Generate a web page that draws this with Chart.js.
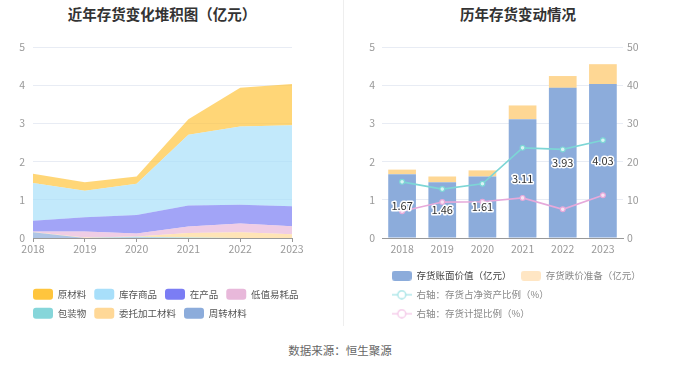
<!DOCTYPE html>
<html><head><meta charset="utf-8">
<script src="https://cdn.jsdelivr.net/npm/chart.js@4"></script>
<style>
html,body{margin:0;padding:0;background:#fff;}
body{width:680px;height:367px;position:relative;overflow:hidden;font-family:"Noto Sans CJK SC",sans-serif;}
.title{position:absolute;top:14px;font-size:14.5px;font-weight:bold;color:#333;white-space:nowrap;transform:translate(-50%,-50%);line-height:1;}
#divider{position:absolute;left:343px;top:0;width:1px;height:326px;background:#eeeeee;}
#src{position:absolute;left:340px;top:351px;transform:translate(-50%,-50%);font-size:11.5px;color:#666;white-space:nowrap;line-height:1;}
canvas{position:absolute;top:0;}
#c1{left:0;}
#c2{left:340px;}
</style></head>
<body>
<div class="title" style="left:162px">近年存货变化堆积图（亿元）</div>
<div class="title" style="left:518px">历年存货变动情况</div>
<div id="divider"></div>
<canvas id="c1" width="340" height="335"></canvas>
<canvas id="c2" width="340" height="335"></canvas>
<div id="src">数据来源：恒生聚源</div>
<script>
// ---- data ----
const years = ['2018','2019','2020','2021','2022','2023'];
// stacked inventory composition (亿元)
const rawMaterials   = [0.24, 0.22, 0.19, 0.41, 1.01, 1.08]; // 原材料
const finishedGoods  = [0.99, 0.70, 0.82, 1.85, 2.05, 2.12]; // 库存商品
const workInProgress = [0.28, 0.37, 0.48, 0.55, 0.49, 0.52]; // 在产品
const lowValueItems  = [0.01, 0.16, 0.08, 0.17, 0.23, 0.21]; // 低值易耗品
const packaging      = [0.00, 0.00, 0.02, 0.01, 0.00, 0.00]; // 包装物
const consigned      = [0.01, 0.01, 0.01, 0.12, 0.15, 0.10]; // 委托加工材料
const turnover       = [0.15, 0.00, 0.01, 0.00, 0.00, 0.00]; // 周转材料
// inventory changes
const bookValue      = [1.67, 1.46, 1.61, 3.11, 3.93, 4.03]; // 存货账面价值（亿元）
const provision      = [0.12, 0.15, 0.16, 0.36, 0.31, 0.52]; // 存货跌价准备（亿元）
const ratioNetAssets = [14.7, 12.8, 14.2, 23.6, 23.2, 25.6]; // 存货占净资产比例（%）
const ratioProvision = [7.0, 9.4, 9.5, 10.5, 7.5, 11.2];     // 存货计提比例（%）
const leftTicks = [0,1,2,3,4,5];
const rightTicks = [0,10,20,30,40,50];

const FONT = '"Noto Sans CJK SC", "Noto Sans", sans-serif';
const TICK = {family: FONT, size: 10.5};

// shifts the legend horizontally after layout
const legendShift = {
  id:'legendShift',
  afterLayout(chart, args, opts){
    const L = chart.legend; if(!L) return;
    L.left += opts.dx; L.right += opts.dx;
  }
};

// ---- left chart ----
const comp = [
  {label:'周转材料', data:turnover, color:'#8CACDB'},
  {label:'包装物', data:packaging, color:'#86D6DA'},
  {label:'委托加工材料', data:consigned, color:'#FFD897'},
  {label:'低值易耗品', data:lowValueItems, color:'#E8B8DA'},
  {label:'在产品', data:workInProgress, color:'#7B7DF4'},
  {label:'库存商品', data:finishedGoods, color:'#A8DFFA'},
  {label:'原材料', data:rawMaterials, color:'#FFC53D'}
];
const leftLegendOrder = ['原材料','库存商品','在产品','低值易耗品','包装物','委托加工材料','周转材料'];
function rgba(hex, a){const n=parseInt(hex.slice(1),16);return `rgba(${n>>16},${(n>>8)&255},${n&255},${a})`;}

new Chart(document.getElementById('c1'), {
  type:'line',
  data:{labels:years, datasets:comp.map((c,i)=>({
    label:c.label, data:c.data, backgroundColor:rgba(c.color,0.7), borderColor:'transparent',
    borderWidth:0, pointRadius:0, fill: i===0 ? 'origin' : '-1', tension:0
  }))},
  options:{
    responsive:false, animation:false, devicePixelRatio:1,
    layout:{padding:{left:16,right:0,top:47,bottom:6.2}},
    plugins:{
      tooltip:{enabled:false},
      legendShift:{dx:9},
      legend:{position:'bottom', align:'start',
        labels:{boxWidth:20, boxHeight:11, padding:8, font:{family:FONT,size:9.5}, color:'#555', useBorderRadius:true, borderRadius:3,
          generateLabels(chart){
            return leftLegendOrder.map(name=>{
              const i = chart.data.datasets.findIndex(d=>d.label===name);
              return {text:name, fillStyle:comp[i].color, strokeStyle:'transparent', lineWidth:0, hidden:false, datasetIndex:i, fontColor:'#555', borderRadius:3};
            });
          }}
      }
    },
    scales:{
      x:{type:'category', offset:false,
        grid:{display:true, drawOnChartArea:false, drawTicks:true, tickLength:4, color:'#999'},
        border:{display:true, color:'#999'},
        ticks:{color:'#999', font:TICK, padding:1, maxRotation:0, autoSkip:false},
        afterFit(s){s.height=42.8;}
      },
      y:{stacked:true, min:0, max:5,
        afterBuildTicks(s){s.ticks=leftTicks.map(v=>({value:v}));},
        ticks:{color:'#999', font:TICK, padding:8},
        grid:{color:'#E8ECF4', drawTicks:false}, border:{display:false},
        afterFit(s){s.width=17;}
      },
      yr:{position:'right', min:0, max:1, display:true, grid:{display:false, drawTicks:false}, ticks:{display:false}, border:{display:false},
        afterFit(s){s.width=48;}}
    }
  },
  plugins:[legendShift]
});

// ---- right chart ----
function makeIcon(kind, color){
  const c=document.createElement('canvas'); c.width=20; c.height=10;
  const x=c.getContext('2d');
  if(kind==='box'){
    x.fillStyle=color; x.beginPath(); x.roundRect(0,0,20,10,3); x.fill();
  } else {
    x.strokeStyle=color; x.lineWidth=1.3;
    x.beginPath(); x.moveTo(0,5); x.lineTo(20,5); x.stroke();
    x.fillStyle='#fff'; x.beginPath(); x.arc(10,5,4,0,Math.PI*2); x.fill(); x.stroke();
  }
  return c;
}
const rightLegend = [
  {ds:2, text:'存货账面价值（亿元）', icon:makeIcon('box','#8CACDB'), color:'#444'},
  {ds:3, text:'存货跌价准备（亿元）', icon:makeIcon('box','#FFE6C4'), color:'#888'},
  {ds:0, text:'右轴：存货占净资产比例（%）', icon:makeIcon('line','#A6E4E6'), color:'#888'},
  {ds:1, text:'右轴：存货计提比例（%）', icon:makeIcon('line','#F4C8E8'), color:'#888'}
];

const barLabels = {
  id:'barLabels',
  afterDatasetsDraw(chart){
    const meta = chart.getDatasetMeta(2);
    const ctx = chart.ctx;
    ctx.save();
    ctx.font = `11px ${FONT}`;
    ctx.textAlign='center'; ctx.textBaseline='middle';
    ctx.lineJoin='round';
    meta.data.forEach((el,i)=>{
      const p = el.getProps(['x','y','base'], true);
      const cy = (p.y + p.base)/2;
      const t = bookValue[i].toFixed(2);
      ctx.strokeStyle='#fff'; ctx.lineWidth=3; ctx.strokeText(t,p.x,cy);
      ctx.fillStyle='#333'; ctx.fillText(t,p.x,cy);
    });
    ctx.restore();
  }
};

new Chart(document.getElementById('c2'), {
  type:'bar',
  data:{labels:years, datasets:[
    {type:'line', label:'右轴：存货占净资产比例（%）', data:ratioNetAssets, yAxisID:'y2', order:0,
      borderColor:'#7DD6D6', backgroundColor:'#7DD6D6', borderWidth:1.6, pointRadius:2.4, pointBorderWidth:1.2,
      pointBackgroundColor:'#D8F4F4', pointBorderColor:'#7DD6D6', tension:0, fill:false},
    {type:'line', label:'右轴：存货计提比例（%）', data:ratioProvision, yAxisID:'y2', order:0,
      borderColor:'#E6A9DA', backgroundColor:'#E6A9DA', borderWidth:1.6, pointRadius:2.4, pointBorderWidth:1.2,
      pointBackgroundColor:'#F8E2F3', pointBorderColor:'#E6A9DA', tension:0, fill:false},
    {label:'存货账面价值（亿元）', data:bookValue, backgroundColor:'#8CACDB', order:1, stack:'s', yAxisID:'y',
      categoryPercentage:1, barPercentage:0.69},
    {label:'存货跌价准备（亿元）', data:provision, backgroundColor:'#FED794', order:1, stack:'s', yAxisID:'y',
      categoryPercentage:1, barPercentage:0.69}
  ]},
  options:{
    responsive:false, animation:false, devicePixelRatio:1,
    layout:{padding:{left:22,right:28,top:47,bottom:6.55}},
    plugins:{
      tooltip:{enabled:false},
      legendShift:{dx:20.2},
      legend:{position:'bottom', align:'start',
        labels:{usePointStyle:true, pointStyleWidth:20, padding:9.5, font:{family:FONT,size:9.5}, color:'#888',
          generateLabels(){
            return rightLegend.map(it=>({text:it.text, pointStyle:it.icon, fillStyle:'transparent', strokeStyle:'transparent', lineWidth:0, hidden:false, datasetIndex:it.ds, fontColor:it.color}));
          }}
      }
    },
    scales:{
      x:{stacked:true, offset:true,
        grid:{display:false, drawTicks:false}, border:{display:true, color:'#999'},
        ticks:{color:'#999', font:TICK, padding:5, maxRotation:0, autoSkip:false},
        afterFit(s){s.height=23.45;}
      },
      y:{stacked:true, min:0, max:5, position:'left',
        afterBuildTicks(s){s.ticks=leftTicks.map(v=>({value:v}));},
        ticks:{color:'#999', font:TICK, padding:7},
        grid:{color:'#E8ECF4', drawTicks:false}, border:{display:false},
        afterFit(s){s.width=20;}
      },
      y2:{position:'right', min:0, max:50,
        afterBuildTicks(s){s.ticks=rightTicks.map(v=>({value:v}));},
        ticks:{color:'#999', font:TICK, padding:4},
        grid:{display:false, drawTicks:false}, border:{display:false},
        afterFit(s){s.width=29;}
      }
    }
  },
  plugins:[barLabels, legendShift]
});
</script>
</body></html>
